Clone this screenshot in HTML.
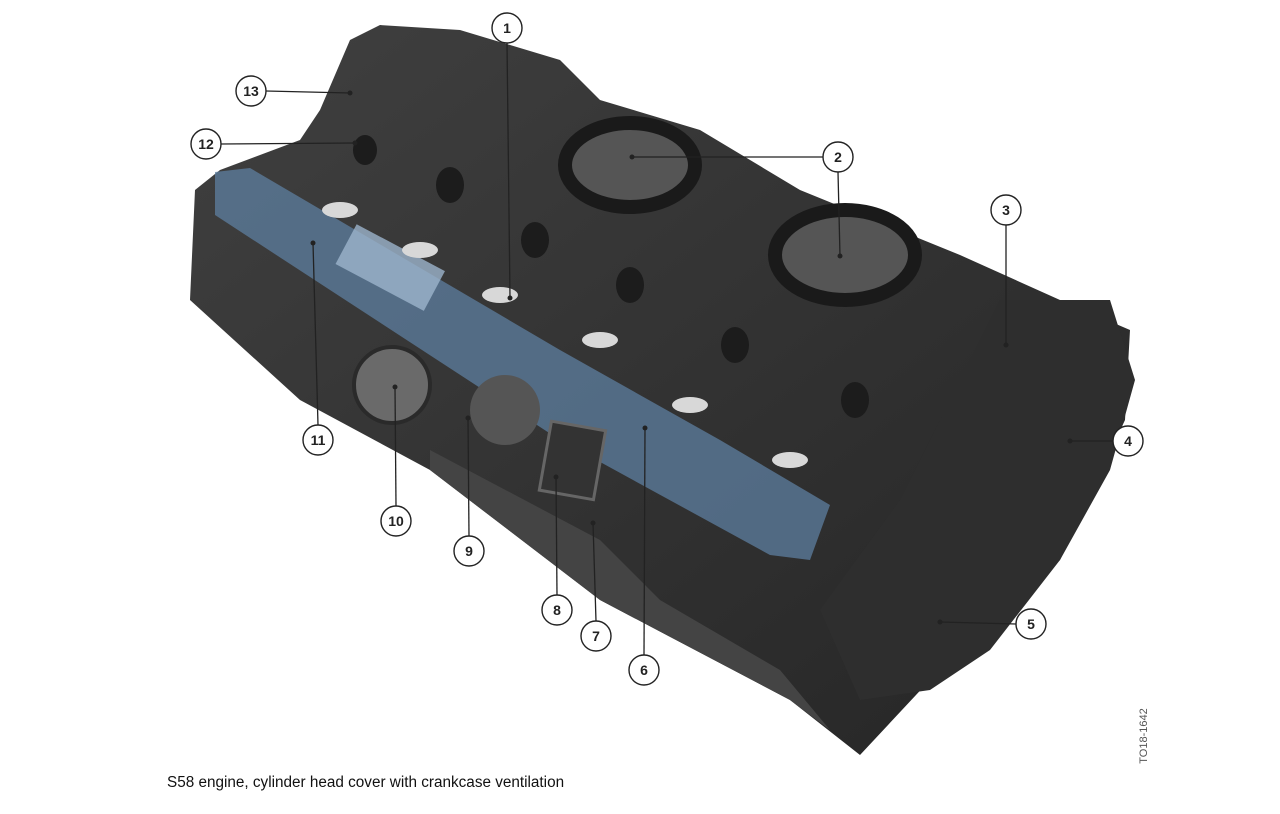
<!DOCTYPE html>
<html><head><meta charset="utf-8"><style>
html,body{margin:0;padding:0;background:#fff;}
body{width:1280px;height:814px;position:relative;overflow:hidden;font-family:"Liberation Sans",sans-serif;}
.cap{position:absolute;left:167px;top:774px;font-size:15.3px;color:#111;}
.vt{position:absolute;left:1104px;top:730px;font-size:11px;color:#555;transform:rotate(-90deg);transform-origin:center;width:80px;text-align:center;}
</style></head><body>
<svg width="1280" height="814" style="position:absolute;left:0;top:0">
<defs>
<linearGradient id="g" x1="0" y1="0" x2="1" y2="1">
<stop offset="0" stop-color="#404040"/><stop offset="1" stop-color="#252525"/></linearGradient>
</defs>
<!-- main body -->
<polygon fill="url(#g)" points="195,190 220,170 300,140 320,110 350,40 380,25 460,30 560,60 600,100 700,130 800,190 960,255 1060,300 1130,330 1125,420 1060,560 930,680 860,755 790,700 600,600 430,470 300,400 190,300"/>
<polygon fill="#2e2e2e" points="1000,300 1110,300 1135,380 1110,470 1060,560 990,650 930,690 860,700 820,610 900,500"/>
<polygon fill="#444" points="430,450 600,540 660,600 780,670 830,730 790,700 600,600 430,470"/>
<!-- tubes -->
<g fill="#1c1c1c">
<ellipse cx="450" cy="185" rx="14" ry="18"/><ellipse cx="535" cy="240" rx="14" ry="18"/>
<ellipse cx="630" cy="285" rx="14" ry="18"/><ellipse cx="735" cy="345" rx="14" ry="18"/>
<ellipse cx="855" cy="400" rx="14" ry="18"/><ellipse cx="365" cy="150" rx="12" ry="15"/>
</g>
<!-- blue strip -->
<polygon fill="#5d7fa0" opacity="0.75" points="215,172 250,168 560,350 720,440 830,505 810,560 770,555 560,440 215,215"/>
<rect x="340" y="245" width="100" height="45" fill="#9cb4cc" transform="rotate(28 390 268)" opacity="0.8"/>
<!-- gaskets -->
<ellipse cx="630" cy="165" rx="65" ry="42" fill="#555" stroke="#1a1a1a" stroke-width="14"/>
<ellipse cx="845" cy="255" rx="70" ry="45" fill="#555" stroke="#1a1a1a" stroke-width="14"/>
<!-- holes -->
<g fill="#d8d8d8">
<ellipse cx="340" cy="210" rx="18" ry="8"/><ellipse cx="420" cy="250" rx="18" ry="8"/>
<ellipse cx="500" cy="295" rx="18" ry="8"/><ellipse cx="600" cy="340" rx="18" ry="8"/>
<ellipse cx="690" cy="405" rx="18" ry="8"/><ellipse cx="790" cy="460" rx="18" ry="8"/>
</g>
<!-- oil cap -->
<circle cx="392" cy="385" r="38" fill="#6a6a6a" stroke="#2a2a2a" stroke-width="4"/>
<circle cx="505" cy="410" r="35" fill="#555"/>
<rect x="545" y="425" width="55" height="70" fill="#333" stroke="#666" stroke-width="3" transform="rotate(10 570 460)"/>
<!-- callout lines -->
<g stroke="#222" stroke-width="1.3" fill="none">
<line x1="507" y1="43" x2="510" y2="298"/>
<line x1="823" y1="157" x2="632" y2="157"/>
<line x1="838" y1="172" x2="840" y2="256"/>
<line x1="1006" y1="225" x2="1006" y2="345"/>
<line x1="1113" y1="441" x2="1070" y2="441"/>
<line x1="1016" y1="624" x2="940" y2="622"/>
<line x1="644" y1="655" x2="645" y2="428"/>
<line x1="596" y1="621" x2="593" y2="523"/>
<line x1="557" y1="595" x2="556" y2="477"/>
<line x1="469" y1="536" x2="468" y2="418"/>
<line x1="396" y1="506" x2="395" y2="387"/>
<line x1="318" y1="425" x2="313" y2="243"/>
<line x1="221" y1="144" x2="355" y2="143"/>
<line x1="266" y1="91" x2="350" y2="93"/>
</g>
<g fill="#222">
<circle cx="510" cy="298" r="2.5"/><circle cx="632" cy="157" r="2.5"/><circle cx="840" cy="256" r="2.5"/>
<circle cx="1006" cy="345" r="2.5"/><circle cx="1070" cy="441" r="2.5"/><circle cx="940" cy="622" r="2.5"/>
<circle cx="645" cy="428" r="2.5"/><circle cx="593" cy="523" r="2.5"/><circle cx="556" cy="477" r="2.5"/>
<circle cx="468" cy="418" r="2.5"/><circle cx="395" cy="387" r="2.5"/><circle cx="313" cy="243" r="2.5"/>
<circle cx="355" cy="143" r="2.5"/><circle cx="350" cy="93" r="2.5"/>
</g>
<g fill="#fff" stroke="#222" stroke-width="1.4">
<circle cx="507" cy="28" r="15"/><circle cx="838" cy="157" r="15"/><circle cx="1006" cy="210" r="15"/>
<circle cx="1128" cy="441" r="15"/><circle cx="1031" cy="624" r="15"/><circle cx="644" cy="670" r="15"/>
<circle cx="596" cy="636" r="15"/><circle cx="557" cy="610" r="15"/><circle cx="469" cy="551" r="15"/>
<circle cx="396" cy="521" r="15"/><circle cx="318" cy="440" r="15"/><circle cx="206" cy="144" r="15"/>
<circle cx="251" cy="91" r="15"/>
</g>
<g font-family="Liberation Sans, sans-serif" font-size="14" font-weight="bold" fill="#222" text-anchor="middle">
<text x="507" y="33">1</text><text x="838" y="162">2</text><text x="1006" y="215">3</text>
<text x="1128" y="446">4</text><text x="1031" y="629">5</text><text x="644" y="675">6</text>
<text x="596" y="641">7</text><text x="557" y="615">8</text><text x="469" y="556">9</text>
<text x="396" y="526">10</text><text x="318" y="445">11</text><text x="206" y="149">12</text>
<text x="251" y="96">13</text>
</g>
</svg>
<div class="cap">S58 engine, cylinder head cover with crankcase ventilation</div>
<div class="vt">TO18-1642</div>
</body></html>
